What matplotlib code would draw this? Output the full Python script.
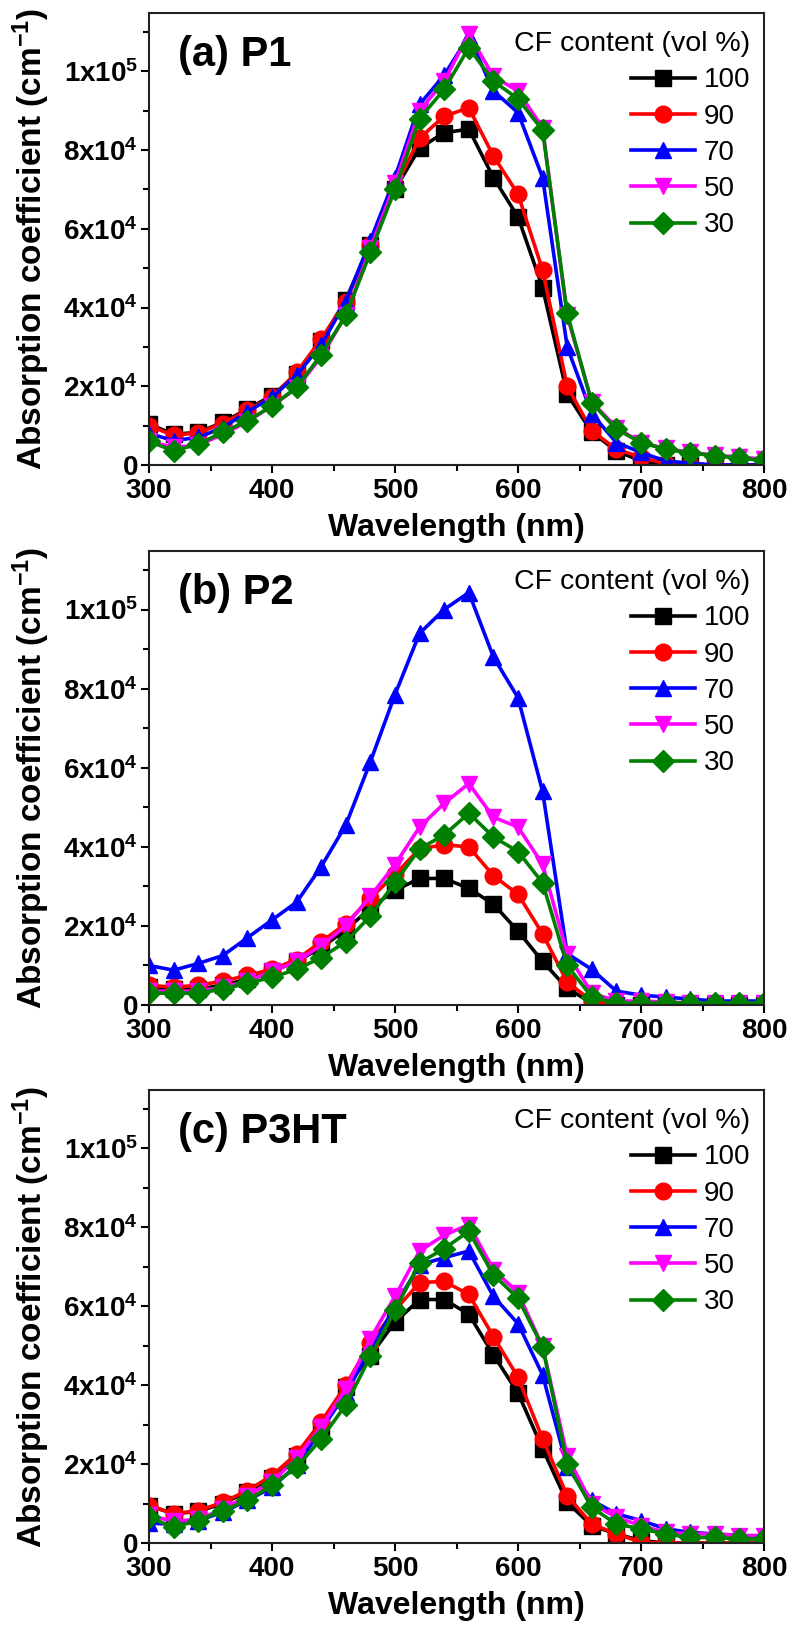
import numpy as np
import matplotlib
matplotlib.use("Agg")
import matplotlib.pyplot as plt
from matplotlib.ticker import MultipleLocator, FuncFormatter

plt.rcParams["font.family"] = "Liberation Sans"
plt.rcParams["font.weight"] = "bold"
plt.rcParams["mathtext.fontset"] = "custom"
plt.rcParams["mathtext.rm"] = "Liberation Sans:bold"
plt.rcParams["mathtext.bf"] = "Liberation Sans:bold"
plt.rcParams["mathtext.it"] = "Liberation Sans:bold"
plt.rcParams["mathtext.default"] = "rm"

# wavelength (nm), one point per marker
wavelength = np.arange(300, 801, 20)
cf_labels = ["100", "90", "70", "50", "30"]

# absorption coefficient, units of 1e4 cm^-1
p1_100 = [1.04, 0.78, 0.83, 1.08, 1.42, 1.76, 2.3, 3.15, 4.2, 5.6, 7.0, 8.05, 8.44,
          8.53, 7.3, 6.3, 4.5, 1.8, 0.83, 0.36, 0.1, 0.0, 0.0, 0.0, 0.0, 0.0]
p1_90 = [1.0, 0.75, 0.82, 1.05, 1.4, 1.72, 2.35, 3.2, 4.15, 5.6, 7.05, 8.3, 8.86,
         9.07, 7.85, 6.88, 4.95, 2.0, 0.87, 0.4, 0.2, 0.03, 0.0, 0.0, 0.0, 0.0]
p1_70 = [0.8, 0.62, 0.7, 0.95, 1.35, 1.72, 2.28, 3.05, 4.15, 5.7, 7.3, 9.16, 9.9,
         10.9, 9.5, 8.95, 7.3, 3.0, 1.3, 0.57, 0.32, 0.1, 0.05, 0.0, 0.0, 0.0]
p1_50 = [0.6, 0.45, 0.5, 0.78, 1.1, 1.5, 1.95, 2.75, 3.8, 5.5, 7.15, 9.0, 9.75,
         10.95, 9.87, 9.5, 8.56, 3.8, 1.6, 0.95, 0.57, 0.42, 0.32, 0.25, 0.2, 0.15]
p1_30 = [0.6, 0.36, 0.53, 0.83, 1.12, 1.5, 1.97, 2.8, 3.8, 5.4, 7.0, 8.8, 9.54,
         10.6, 9.75, 9.3, 8.5, 3.85, 1.58, 0.91, 0.57, 0.4, 0.3, 0.24, 0.17, 0.12]

p2_100 = [0.45, 0.4, 0.4, 0.5, 0.65, 0.85, 1.1, 1.45, 1.9, 2.45, 2.9, 3.2, 3.2,
          2.95, 2.55, 1.87, 1.1, 0.42, 0.05, 0.0, 0.0, 0.0, 0.0, 0.0, 0.0, 0.0]
p2_90 = [0.5, 0.45, 0.5, 0.6, 0.75, 0.9, 1.15, 1.6, 2.05, 2.7, 3.3, 3.95, 4.05,
         4.0, 3.27, 2.8, 1.8, 0.58, 0.1, 0.0, 0.0, 0.0, 0.0, 0.0, 0.02, 0.05]
p2_70 = [1.0, 0.88, 1.05, 1.25, 1.7, 2.15, 2.6, 3.5, 4.55, 6.15, 7.85, 9.4, 10.0,
         10.43, 8.8, 7.77, 5.4, 1.3, 0.9, 0.35, 0.25, 0.2, 0.15, 0.1, 0.1, 0.1]
p2_50 = [0.35, 0.35, 0.35, 0.45, 0.6, 0.85, 1.1, 1.5, 2.0, 2.75, 3.55, 4.5, 5.1,
         5.6, 4.75, 4.5, 3.56, 1.3, 0.3, 0.1, 0.1, 0.08, 0.05, 0.05, 0.05, 0.05]
p2_30 = [0.3, 0.3, 0.3, 0.4, 0.55, 0.7, 0.9, 1.2, 1.6, 2.25, 3.1, 3.95, 4.3,
         4.85, 4.25, 3.88, 3.09, 1.0, 0.2, 0.05, 0.05, 0.05, 0.05, 0.05, 0.05, 0.05]

p3ht_100 = [0.95, 0.74, 0.8, 1.0, 1.3, 1.65, 2.2, 2.95, 3.95, 4.75, 5.6, 6.17, 6.17,
            5.8, 4.77, 3.8, 2.39, 1.03, 0.44, 0.23, 0.06, 0.0, 0.0, 0.0, 0.0, 0.0]
p3ht_90 = [0.95, 0.74, 0.82, 1.03, 1.33, 1.71, 2.26, 3.07, 4.0, 5.08, 5.9, 6.6, 6.63,
           6.3, 5.23, 4.2, 2.64, 1.2, 0.48, 0.23, 0.02, 0.0, 0.0, 0.0, 0.0, 0.0]
p3ht_70 = [0.5, 0.48, 0.57, 0.78, 1.08, 1.41, 1.97, 2.86, 3.8, 4.9, 6.0, 7.05, 7.23,
           7.4, 6.25, 5.56, 4.26, 1.92, 1.08, 0.74, 0.57, 0.36, 0.27, 0.23, 0.19, 0.14]
p3ht_50 = [0.7, 0.55, 0.6, 0.85, 1.2, 1.55, 2.15, 2.95, 3.9, 5.18, 6.25, 7.4, 7.8,
           8.07, 6.93, 6.34, 4.98, 2.2, 1.0, 0.65, 0.44, 0.27, 0.23, 0.23, 0.19, 0.19]
p3ht_30 = [0.65, 0.4, 0.57, 0.82, 1.08, 1.46, 1.92, 2.64, 3.5, 4.73, 5.9, 7.1, 7.46,
           7.9, 6.8, 6.2, 4.97, 2.0, 0.9, 0.48, 0.36, 0.23, 0.14, 0.14, 0.1, 0.1]

panels = [
    ("(a) P1", [p1_100, p1_90, p1_70, p1_50, p1_30]),
    ("(b) P2", [p2_100, p2_90, p2_70, p2_50, p2_30]),
    ("(c) P3HT", [p3ht_100, p3ht_90, p3ht_70, p3ht_50, p3ht_30]),
]
colors = ["black", "#ff0000", "#0000ff", "#ff00ff", "#008000"]
markers = ["s", "o", "^", "v", "D"]
msizes = [11, 12, 12, 12, 11]


def yfmt(v, pos):
    if v <= 0:
        return "0" if abs(v) < 1 else ""
    e = int(np.floor(np.log10(v) + 1e-9))
    m = v / 10 ** e
    return f"{m:g}x10$^{{{e}}}$"


W, H = 792, 1626
fig = plt.figure(figsize=(W / 100, H / 100), dpi=100)
# axes boxes in pixels: (left, top, right, bottom)
boxes = [(149, 13, 764, 465), (149, 551, 764, 1005), (149, 1090, 764, 1543)]

for (title, series), (l, t, r, b) in zip(panels, boxes):
    ax = fig.add_axes([l / W, 1 - b / H, (r - l) / W, (b - t) / H])
    for vals, c, m, ms, lab in zip(series, colors, markers, msizes, cf_labels):
        ax.plot(wavelength, np.array(vals) * 1e4, color=c, marker=m, ms=ms,
                mec=c, mfc=c, lw=2.6, label=lab)
    ax.set_xlim(300, 800)
    ax.set_ylim(0, 1.148e5)
    ax.xaxis.set_major_locator(MultipleLocator(100))
    ax.xaxis.set_minor_locator(MultipleLocator(50))
    ax.yaxis.set_major_locator(MultipleLocator(2e4))
    ax.yaxis.set_minor_locator(MultipleLocator(1e4))
    ax.yaxis.set_major_formatter(FuncFormatter(yfmt))
    ax.tick_params(which="both", direction="out", width=1.5, labelsize=20)
    ax.tick_params(which="major", length=6)
    ax.tick_params(which="minor", length=4)
    ax.tick_params(axis="y", pad=2)
    for s in ax.spines.values():
        s.set_linewidth(1.5)
        s.set_color("#222222")
    ax.set_xlabel("Wavelength (nm)", fontsize=23, fontweight="bold", labelpad=6)
    ax.set_ylabel("Absorption coefficient (cm$^{-1}$)", fontsize=24,
                  fontweight="bold", labelpad=8)
    ax.text(0.047, 0.951, title, transform=ax.transAxes, fontsize=30,
            fontweight="bold", ha="left", va="top")
    ax.legend(title="CF content (vol %)", loc="upper right",
              bbox_to_anchor=(1 - 14 / 615, 1 - 18 / 452), frameon=False,
              prop={"size": 20, "weight": "normal"},
              title_fontproperties={"size": 20.5, "weight": "normal"},
              alignment="right", handlelength=2.3, handletextpad=0.3,
              labelspacing=0.37, borderpad=0, borderaxespad=0)

fig.savefig("out.png", dpi=100)
